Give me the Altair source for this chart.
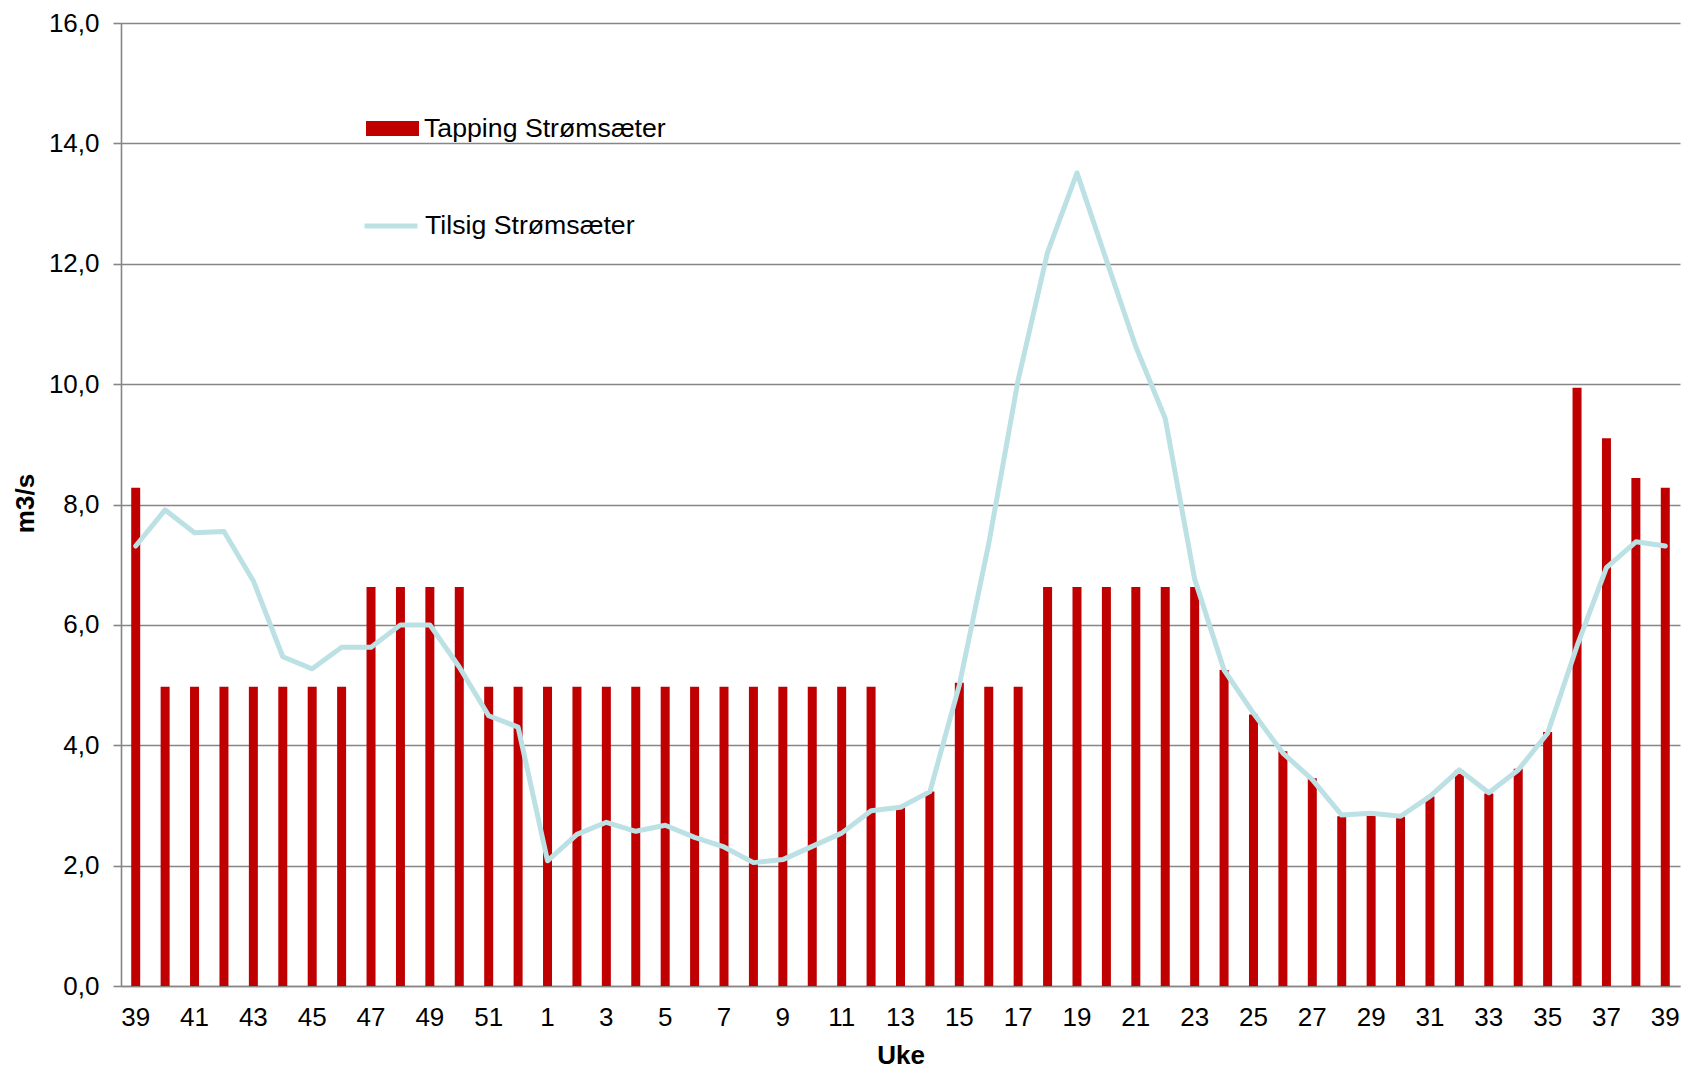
import altair as alt
import pandas as pd

week_labels = [39, 40, 41, 42, 43, 44, 45, 46, 47, 48, 49, 50, 51, 52,
               1, 2, 3, 4, 5, 6, 7, 8, 9, 10, 11, 12, 13, 14, 15, 16, 17, 18, 19, 20,
               21, 22, 23, 24, 25, 26, 27, 28, 29, 30, 31, 32, 33, 34, 35, 36, 37, 38, 39]

tapping = [8.28, 4.97, 4.97, 4.97, 4.97, 4.97, 4.97, 4.97, 6.63, 6.63, 6.63, 6.63, 4.97, 4.97,
           4.97, 4.97, 4.97, 4.97, 4.97, 4.97, 4.97, 4.97, 4.97, 4.97, 4.97, 4.97, 2.97, 3.23,
           5.04, 4.97, 4.97, 6.63, 6.63, 6.63, 6.63, 6.63, 6.63, 5.25, 4.51, 3.90, 3.45, 2.82,
           2.85, 2.81, 3.15, 3.59, 3.20, 3.61, 4.22, 9.94, 9.10, 8.44, 8.28]

tilsig = [7.31, 7.91, 7.53, 7.55, 6.73, 5.47, 5.27, 5.63, 5.63, 6.00, 6.00, 5.30, 4.49, 4.30,
          2.08, 2.52, 2.72, 2.57, 2.67, 2.47, 2.31, 2.05, 2.10, 2.32, 2.54, 2.91, 2.97, 3.23,
          5.00, 7.35, 10.07, 12.19, 13.51, 12.06, 10.62, 9.43, 6.76, 5.25, 4.53, 3.87, 3.43, 2.84,
          2.87, 2.82, 3.15, 3.59, 3.21, 3.59, 4.20, 5.65, 6.95, 7.38, 7.31]

y_ticks = [0, 2, 4, 6, 8, 10, 12, 14, 16]

series_bar = "Tapping Strømsæter"
series_line = "Tilsig Strømsæter"

df = pd.DataFrame({
    "idx": list(range(len(week_labels))),
    "tapping": tapping,
    "tilsig": tilsig,
})

FONT = "Liberation Sans"
GRID = "#868686"

label_array = "[" + ",".join("'" + str(w) + "'" for w in week_labels) + "]"
x_tick_values = [i for i in range(len(week_labels)) if i % 2 == 0]

x_enc = alt.X(
    "idx:O",
    scale=alt.Scale(paddingInner=0.694, paddingOuter=0.347),
    axis=alt.Axis(
        title="Uke",
        values=x_tick_values,
        labelExpr=label_array + "[datum.value]",
        labelAngle=0,
        labelFont=FONT,
        labelFontSize=26,
        labelColor="#000000",
        labelPadding=18,
        ticks=False,
        domain=True,
        domainColor=GRID,
        domainWidth=1.6,
        grid=False,
        titleFont=FONT,
        titleFontSize=26,
        titleFontWeight="bold",
        titleColor="#000000",
        titleY=69,
        titleBaseline="middle",
    ),
)

y_axis = alt.Axis(
    title="m3/s",
    values=y_ticks,
    labelExpr="replace(format(datum.value, '.1f'), '.', ',')",
    labelFont=FONT,
    labelFontSize=26,
    labelColor="#000000",
    labelPadding=14,
    tickSize=8,
    tickColor=GRID,
    tickWidth=1.6,
    domainColor=GRID,
    domainWidth=1.6,
    grid=True,
    gridColor=GRID,
    gridWidth=1.6,
    titleFont=FONT,
    titleFontSize=26,
    titleFontWeight="bold",
    titleColor="#000000",
    titleX=-96,
    titleY=480,
    titleAngle=-90,
    titleBaseline="middle",
    titleAlign="center",
)

bars = alt.Chart(df).mark_bar(color="#C00000").encode(
    x=x_enc,
    y=alt.Y("tapping:Q", scale=alt.Scale(domain=[0, 16], nice=False), axis=y_axis),
    color=alt.Color(
        "series:N",
        scale=alt.Scale(domain=[series_bar], range=["#C00000"]),
        legend=alt.Legend(
            title=None,
            orient="none",
            legendX=245,
            legendY=79,
            symbolType="M-1,-0.28L1,-0.28L1,0.28L-1,0.28Z",
            symbolSize=2809,
            symbolStrokeWidth=0,
            symbolOpacity=1,
            labelFont=FONT,
            labelFontSize=26.7,
            labelColor="#000000",
            labelOffset=5,
            labelLimit=0,
            padding=0,
        ),
    ),
).transform_calculate(series="'" + series_bar + "'")

line = alt.Chart(df).mark_line(strokeWidth=5, strokeJoin="round", strokeCap="round").encode(
    x=alt.X("idx:O"),
    y=alt.Y("tilsig:Q"),
    stroke=alt.Stroke(
        "series:N",
        scale=alt.Scale(domain=[series_line], range=["#BCE1E4"]),
        legend=alt.Legend(
            title=None,
            orient="none",
            legendX=241,
            legendY=174,
            symbolType="M-1,0L1,0",
            symbolSize=2809,
            symbolStrokeWidth=5,
            symbolOpacity=1,
            labelFont=FONT,
            labelFontSize=26.7,
            labelColor="#000000",
            labelOffset=5,
            labelLimit=0,
            padding=0,
        ),
    ),
).transform_calculate(series="'" + series_line + "'")

chart = alt.layer(bars, line).properties(
    width=1559,
    height=963,
    autosize=alt.AutoSizeParams(type="none"),
    padding={"left": 113, "top": 15, "right": 10, "bottom": 85},
    background="#FFFFFF",
).configure_view(stroke=None)

chart.save("out.html", embed_options={"renderer": "svg", "actions": False})
